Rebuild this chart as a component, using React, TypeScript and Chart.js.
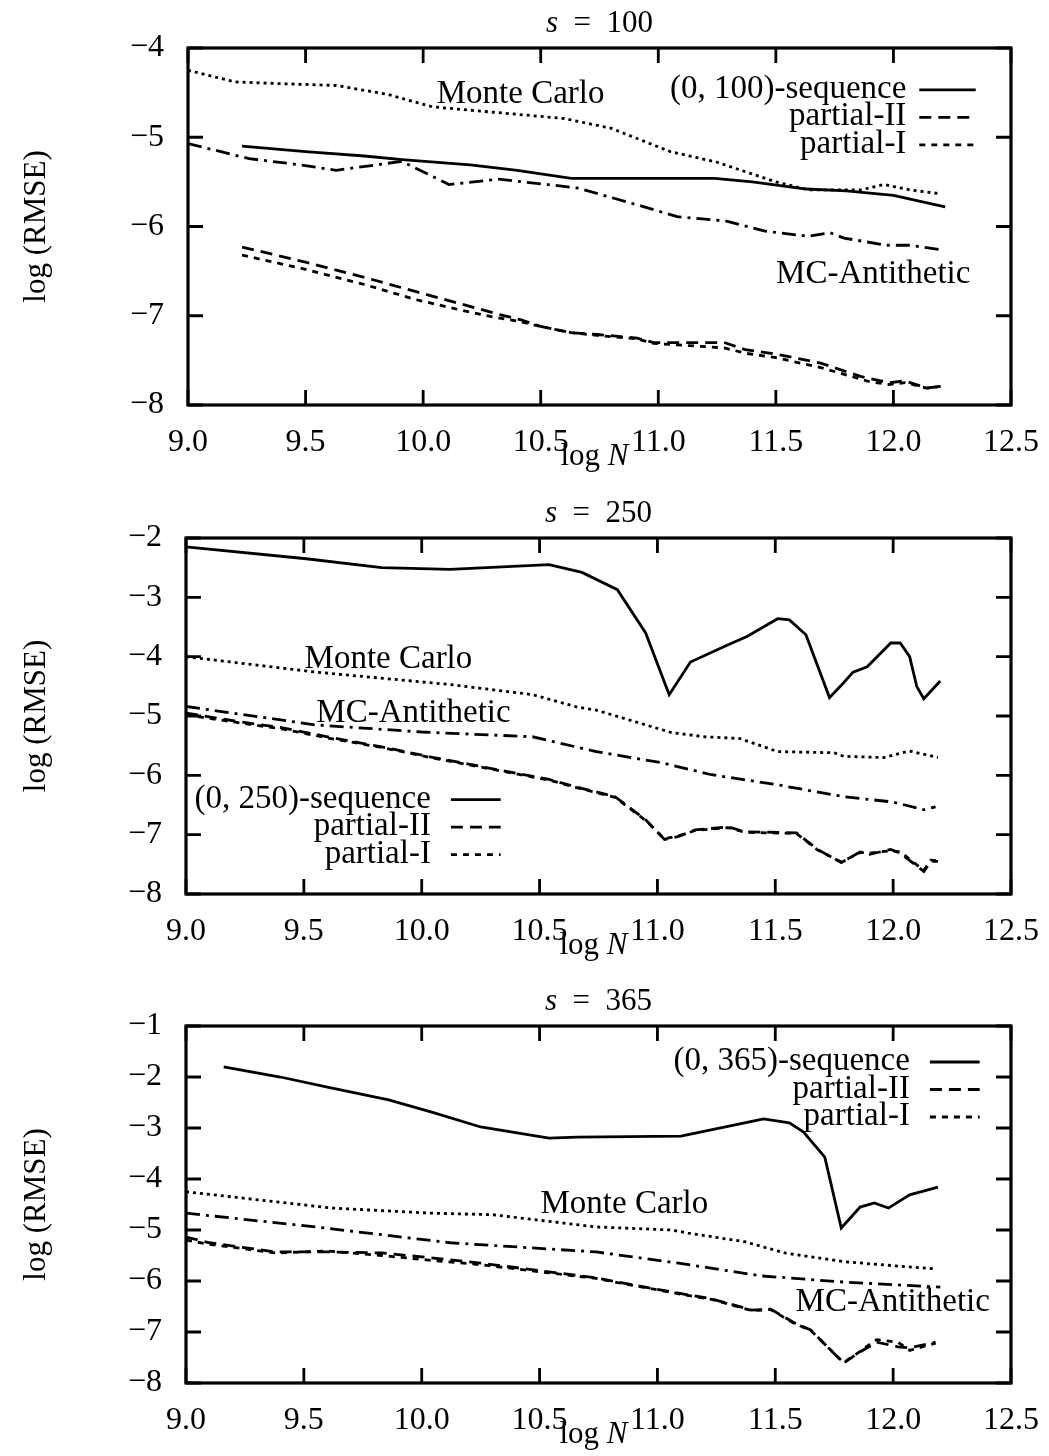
import React, { useEffect, useRef } from "react";
import { Chart, registerables } from "chart.js";

Chart.register(...registerables);

type Pt = [number, number];

// ---------- axes ----------
const xMin = 9.0;
const xMax = 12.5;
const xStep = 0.5;
const yMin = -8;
const yStep = 1;
const yMaxByPanel = [-4, -2, -1];
const panelDims = ["100", "250", "365"];

// ---------- s = 100 ----------
const s100Sequence: Pt[] = [[9.23,-5.10],[9.5,-5.16],[9.75,-5.21],[9.91,-5.25],[10.2,-5.31],[10.4,-5.37],[10.63,-5.46],[10.9,-5.46],[11.24,-5.46],[11.4,-5.5],[11.63,-5.58],[11.8,-5.6],[12.0,-5.65],[12.1,-5.71],[12.22,-5.78]];
const s100PartialII: Pt[] = [[9.23,-6.23],[9.5,-6.40],[9.75,-6.57],[9.97,-6.73],[10.15,-6.86],[10.33,-6.99],[10.42,-7.05],[10.5,-7.12],[10.63,-7.19],[10.74,-7.21],[10.91,-7.25],[10.98,-7.30],[11.1,-7.30],[11.28,-7.30],[11.37,-7.38],[11.5,-7.43],[11.69,-7.53],[11.86,-7.68],[11.98,-7.75],[12.05,-7.73],[12.14,-7.81],[12.21,-7.79]];
const s100PartialI: Pt[] = [[9.23,-6.32],[9.5,-6.48],[9.75,-6.65],[9.97,-6.82],[10.15,-6.93],[10.29,-7.01],[10.42,-7.07],[10.5,-7.12],[10.63,-7.19],[10.74,-7.22],[10.91,-7.26],[10.98,-7.31],[11.1,-7.33],[11.28,-7.36],[11.37,-7.42],[11.5,-7.47],[11.69,-7.58],[11.9,-7.74],[11.98,-7.77],[12.05,-7.75],[12.14,-7.81],[12.21,-7.79]];
const s100MonteCarlo: Pt[] = [[9.0,-4.25],[9.2,-4.38],[9.4,-4.40],[9.63,-4.42],[9.85,-4.52],[10.04,-4.66],[10.3,-4.72],[10.6,-4.79],[10.8,-4.9],[11.05,-5.16],[11.25,-5.28],[11.5,-5.5],[11.64,-5.59],[11.86,-5.59],[11.96,-5.53],[12.07,-5.59],[12.19,-5.63]];
const s100Antithetic: Pt[] = [[9.0,-5.07],[9.26,-5.24],[9.45,-5.3],[9.63,-5.37],[9.91,-5.27],[10.11,-5.53],[10.32,-5.47],[10.53,-5.53],[10.66,-5.57],[10.94,-5.78],[11.08,-5.89],[11.29,-5.94],[11.45,-6.05],[11.64,-6.11],[11.73,-6.07],[11.79,-6.13],[11.97,-6.21],[12.07,-6.21],[12.2,-6.26]];

// ---------- s = 250 ----------
const s250Sequence: Pt[] = [[9.0,-2.15],[9.51,-2.35],[9.83,-2.5],[10.12,-2.53],[10.54,-2.45],[10.68,-2.58],[10.83,-2.87],[10.95,-3.6],[11.05,-4.64],[11.14,-4.09],[11.3,-3.8],[11.38,-3.66],[11.51,-3.36],[11.56,-3.38],[11.63,-3.63],[11.73,-4.69],[11.79,-4.44],[11.83,-4.26],[11.89,-4.17],[11.99,-3.77],[12.03,-3.77],[12.07,-4.0],[12.1,-4.5],[12.13,-4.71],[12.2,-4.41]];
const s250PartialII: Pt[] = [[9.0,-4.95],[9.2,-5.08],[9.41,-5.2],[9.6,-5.35],[9.83,-5.52],[10.05,-5.7],[10.25,-5.85],[10.54,-6.07],[10.66,-6.2],[10.82,-6.36],[10.95,-6.75],[11.03,-7.08],[11.09,-7.03],[11.16,-6.92],[11.3,-6.87],[11.37,-6.95],[11.59,-6.97],[11.68,-7.25],[11.78,-7.47],[11.86,-7.29],[11.9,-7.33],[11.99,-7.25],[12.03,-7.31],[12.13,-7.62],[12.16,-7.45],[12.19,-7.45]];
const s250PartialI: Pt[] = [[9.0,-4.98],[9.2,-5.1],[9.41,-5.22],[9.6,-5.37],[9.83,-5.53],[10.05,-5.71],[10.25,-5.86],[10.54,-6.08],[10.66,-6.21],[10.82,-6.37],[10.95,-6.76],[11.03,-7.07],[11.09,-7.02],[11.16,-6.93],[11.3,-6.88],[11.37,-6.96],[11.59,-6.98],[11.68,-7.26],[11.78,-7.46],[11.86,-7.3],[11.9,-7.31],[11.99,-7.27],[12.03,-7.29],[12.13,-7.6],[12.16,-7.43],[12.19,-7.44]];
const s250MonteCarlo: Pt[] = [[9.0,-4.0],[9.55,-4.26],[10.12,-4.47],[10.47,-4.64],[10.66,-4.85],[10.74,-4.9],[11.06,-5.28],[11.2,-5.35],[11.35,-5.38],[11.51,-5.6],[11.75,-5.62],[11.79,-5.68],[11.96,-5.7],[12.07,-5.59],[12.19,-5.7]];
const s250Antithetic: Pt[] = [[9.0,-4.84],[9.55,-5.15],[10.0,-5.27],[10.47,-5.35],[10.74,-5.6],[11.02,-5.79],[11.23,-5.99],[11.51,-6.16],[11.79,-6.36],[12.0,-6.45],[12.13,-6.58],[12.18,-6.53]];

// ---------- s = 365 ----------
const s365Sequence: Pt[] = [[9.16,-1.8],[9.4,-2.0],[9.62,-2.22],[9.86,-2.45],[10.05,-2.7],[10.25,-2.98],[10.54,-3.2],[10.66,-3.18],[11.1,-3.16],[11.37,-2.9],[11.45,-2.82],[11.56,-2.9],[11.62,-3.08],[11.71,-3.57],[11.78,-4.96],[11.86,-4.55],[11.92,-4.47],[11.98,-4.57],[12.07,-4.31],[12.19,-4.16]];
const s365PartialII: Pt[] = [[9.0,-5.14],[9.1,-5.25],[9.38,-5.43],[9.6,-5.43],[9.83,-5.45],[10.05,-5.55],[10.25,-5.65],[10.54,-5.82],[10.74,-5.94],[10.83,-6.02],[11.09,-6.24],[11.23,-6.35],[11.4,-6.57],[11.48,-6.55],[11.58,-6.82],[11.65,-6.96],[11.79,-7.61],[11.86,-7.39],[11.93,-7.2],[12.02,-7.29],[12.07,-7.31],[12.18,-7.2]];
const s365PartialI: Pt[] = [[9.0,-5.2],[9.1,-5.28],[9.38,-5.45],[9.6,-5.41],[9.83,-5.5],[10.05,-5.6],[10.25,-5.68],[10.54,-5.84],[10.74,-5.95],[10.83,-6.03],[11.09,-6.25],[11.23,-6.36],[11.4,-6.58],[11.48,-6.56],[11.58,-6.83],[11.65,-6.97],[11.79,-7.6],[11.86,-7.38],[11.93,-7.15],[12.02,-7.2],[12.07,-7.36],[12.18,-7.22]];
const s365MonteCarlo: Pt[] = [[9.0,-4.25],[9.62,-4.57],[10.04,-4.67],[10.3,-4.7],[10.74,-4.94],[11.06,-5.0],[11.13,-5.06],[11.37,-5.23],[11.54,-5.45],[11.79,-5.62],[12.0,-5.7],[12.17,-5.76]];
const s365Antithetic: Pt[] = [[9.0,-4.67],[9.55,-4.94],[10.12,-5.25],[10.74,-5.43],[11.09,-5.65],[11.44,-5.9],[11.79,-6.02],[12.2,-6.12]];

const seriesByPanel: Pt[][][] = [
  [s100Sequence, s100PartialII, s100PartialI, s100MonteCarlo, s100Antithetic],
  [s250Sequence, s250PartialII, s250PartialI, s250MonteCarlo, s250Antithetic],
  [s365Sequence, s365PartialII, s365PartialI, s365MonteCarlo, s365Antithetic],
];

// ---------- styles ----------
const FONT = '"Liberation Serif", "Times New Roman", serif';
const seriesDash: number[][] = [[], [12, 7], [6, 6], [3, 4], [14, 6, 3, 6]];
const seriesWidth = 2.8;

// layout per panel (canvas placement and chart-area placement)
const layouts = [
  { top: 0, height: 485, padTop: 48, padBottom: 20, leftW: 188, padRight: 34 },
  { top: 485, height: 490, padTop: 53, padBottom: 21, leftW: 186, padRight: 36 },
  { top: 975, height: 481, padTop: 51, padBottom: 13, leftW: 186, padRight: 36 },
];

// text positions in data coordinates
const annotationsByPanel = [
  [ { text: "Monte Carlo", x: 10.058, y: -4.616 }, { text: "MC-Antithetic", x: 11.501, y: -6.632 } ],
  [ { text: "Monte Carlo", x: 9.503, y: -4.189 }, { text: "MC-Antithetic", x: 9.553, y: -5.098 } ],
  [ { text: "Monte Carlo", x: 10.504, y: -4.667 }, { text: "MC-Antithetic", x: 11.586, y: -6.588 } ],
];
const legendByPanel = [
  { textX: 12.055, lineX1: 12.11, lineX2: 12.35, y: -4.47 },
  { textX: 10.039, lineX1: 10.124, lineX2: 10.335, y: -6.411 },
  { textX: 12.071, lineX1: 12.156, lineX2: 12.367, y: -1.706 },
];

const decorPlugin = {
  id: "paperDecor",
  afterDraw(chart: any, _args: any, o: any) {
    const ctx = chart.ctx as CanvasRenderingContext2D;
    const { left, right, top, bottom } = chart.chartArea;
    const xs = chart.scales.x;
    const ys = chart.scales.y;
    ctx.save();
    ctx.strokeStyle = "#000";
    ctx.fillStyle = "#000";
    ctx.setLineDash([]);
    ctx.lineWidth = 3.2;
    ctx.strokeRect(left, top, right - left, bottom - top);
    ctx.lineWidth = 2.8;
    ctx.beginPath();
    xs.ticks.forEach((t: any) => {
      const p = xs.getPixelForValue(t.value);
      ctx.moveTo(p, bottom); ctx.lineTo(p, bottom - 15);
      ctx.moveTo(p, top); ctx.lineTo(p, top + 15);
    });
    ys.ticks.forEach((t: any) => {
      const p = ys.getPixelForValue(t.value);
      ctx.moveTo(left, p); ctx.lineTo(left + 15, p);
      ctx.moveTo(right, p); ctx.lineTo(right - 15, p);
    });
    ctx.stroke();

    const cx = (left + right) / 2;
    ctx.textBaseline = "alphabetic";
    ctx.textAlign = "left";
    // title: s = N
    const it = `italic 31px ${FONT}`;
    const nf = `31px ${FONT}`;
    const rest = ` =  ${o.dim}`;
    ctx.font = it; const sW = ctx.measureText("s ").width;
    ctx.font = nf; const rW = ctx.measureText(rest).width;
    let x0 = cx - (sW + rW) / 2;
    ctx.font = it; ctx.fillText("s", x0, top - 16);
    ctx.font = nf; ctx.fillText(rest, x0 + sW, top - 16);
    // x label: log N
    ctx.font = nf; const lW = ctx.measureText("log ").width;
    ctx.font = it; const nW = ctx.measureText("N").width;
    x0 = cx - 5 - (lW + nW) / 2;
    ctx.font = nf; ctx.fillText("log ", x0, bottom + 60);
    ctx.font = it; ctx.fillText("N", x0 + lW, bottom + 60);

    // annotations
    ctx.font = `33px ${FONT}`;
    o.annotations.forEach((a: any) => {
      ctx.fillText(a.text, xs.getPixelForValue(a.x), ys.getPixelForValue(a.y));
    });

    // legend
    const lg = o.legend;
    const tx = xs.getPixelForValue(lg.textX);
    const l1 = xs.getPixelForValue(lg.lineX1);
    const l2 = xs.getPixelForValue(lg.lineX2);
    const y0 = ys.getPixelForValue(lg.y);
    o.legendItems.forEach((item: any, i: number) => {
      const ds = chart.data.datasets[item.dataset];
      const y = y0 + i * 27.5;
      ctx.textAlign = "right";
      ctx.setLineDash([]);
      ctx.fillText(item.text, tx, y + 8);
      ctx.setLineDash(ds.borderDash || []);
      ctx.lineWidth = ds.borderWidth;
      ctx.beginPath();
      ctx.moveTo(l1, y); ctx.lineTo(l2, y);
      ctx.stroke();
    });
    ctx.restore();
  },
};

function Panel({ idx }: { idx: number }) {
  const ref = useRef<HTMLCanvasElement | null>(null);
  const L = layouts[idx];
  useEffect(() => {
    if (!ref.current) return;
    const dim = panelDims[idx];
    const datasets = seriesByPanel[idx].map((s, k) => ({
      label: String(k),
      data: s.map(([x, y]) => ({ x, y })),
      borderColor: "#000",
      borderWidth: seriesWidth,
      borderDash: seriesDash[k],
      pointRadius: 0,
      tension: 0,
      fill: false,
    }));
    const tickFont = { family: FONT, size: 32 };
    const chart = new Chart(ref.current, {
      type: "line",
      data: { datasets },
      plugins: [decorPlugin],
      options: {
        responsive: false,
        animation: false,
        devicePixelRatio: 1,
        layout: { padding: { left: 0, right: L.padRight, top: L.padTop, bottom: L.padBottom } },
        plugins: {
          legend: { display: false },
          tooltip: { enabled: false },
          title: { display: false },
          paperDecor: {
            dim,
            annotations: annotationsByPanel[idx],
            legend: legendByPanel[idx],
            legendItems: [
              { text: `(0, ${dim})-sequence`, dataset: 0 },
              { text: "partial-II", dataset: 1 },
              { text: "partial-I", dataset: 2 },
            ],
          },
        } as any,
        scales: {
          x: {
            type: "linear",
            min: xMin,
            max: xMax,
            grid: { display: false },
            border: { display: false },
            ticks: {
              stepSize: xStep,
              autoSkip: false,
              maxRotation: 0,
              padding: 10,
              color: "#000",
              font: tickFont,
              callback: (v: any) => Number(v).toFixed(1),
            },
            afterFit: (s: any) => { s.height = 60; },
          },
          y: {
            type: "linear",
            min: yMin,
            max: yMaxByPanel[idx],
            grid: { display: false },
            border: { display: false },
            ticks: {
              stepSize: yStep,
              padding: 16,
              color: "#000",
              font: tickFont,
              callback: (v: any) => (Number(v) < 0 ? "\u2212" + Math.abs(Number(v)) : String(v)),
            },
            title: {
              display: true,
              text: "log (RMSE)",
              color: "#000",
              font: { family: FONT, size: 31 },
              padding: { top: 18, bottom: 0 },
            },
            afterFit: (s: any) => { s.width = L.leftW; },
          },
        },
      } as any,
    });
    return () => chart.destroy();
  }, [idx]);
  return (
    <canvas
      ref={ref}
      width={1049}
      height={L.height}
      style={{ position: "absolute", left: 0, top: L.top, width: 1049, height: L.height, display: "block" }}
    />
  );
}

export default function App() {
  return (
    <div style={{ position: "absolute", left: 0, top: 0, width: 1049, height: 1456, background: "#fff", overflow: "hidden" }}>
      <Panel idx={0} />
      <Panel idx={1} />
      <Panel idx={2} />
    </div>
  );
}
